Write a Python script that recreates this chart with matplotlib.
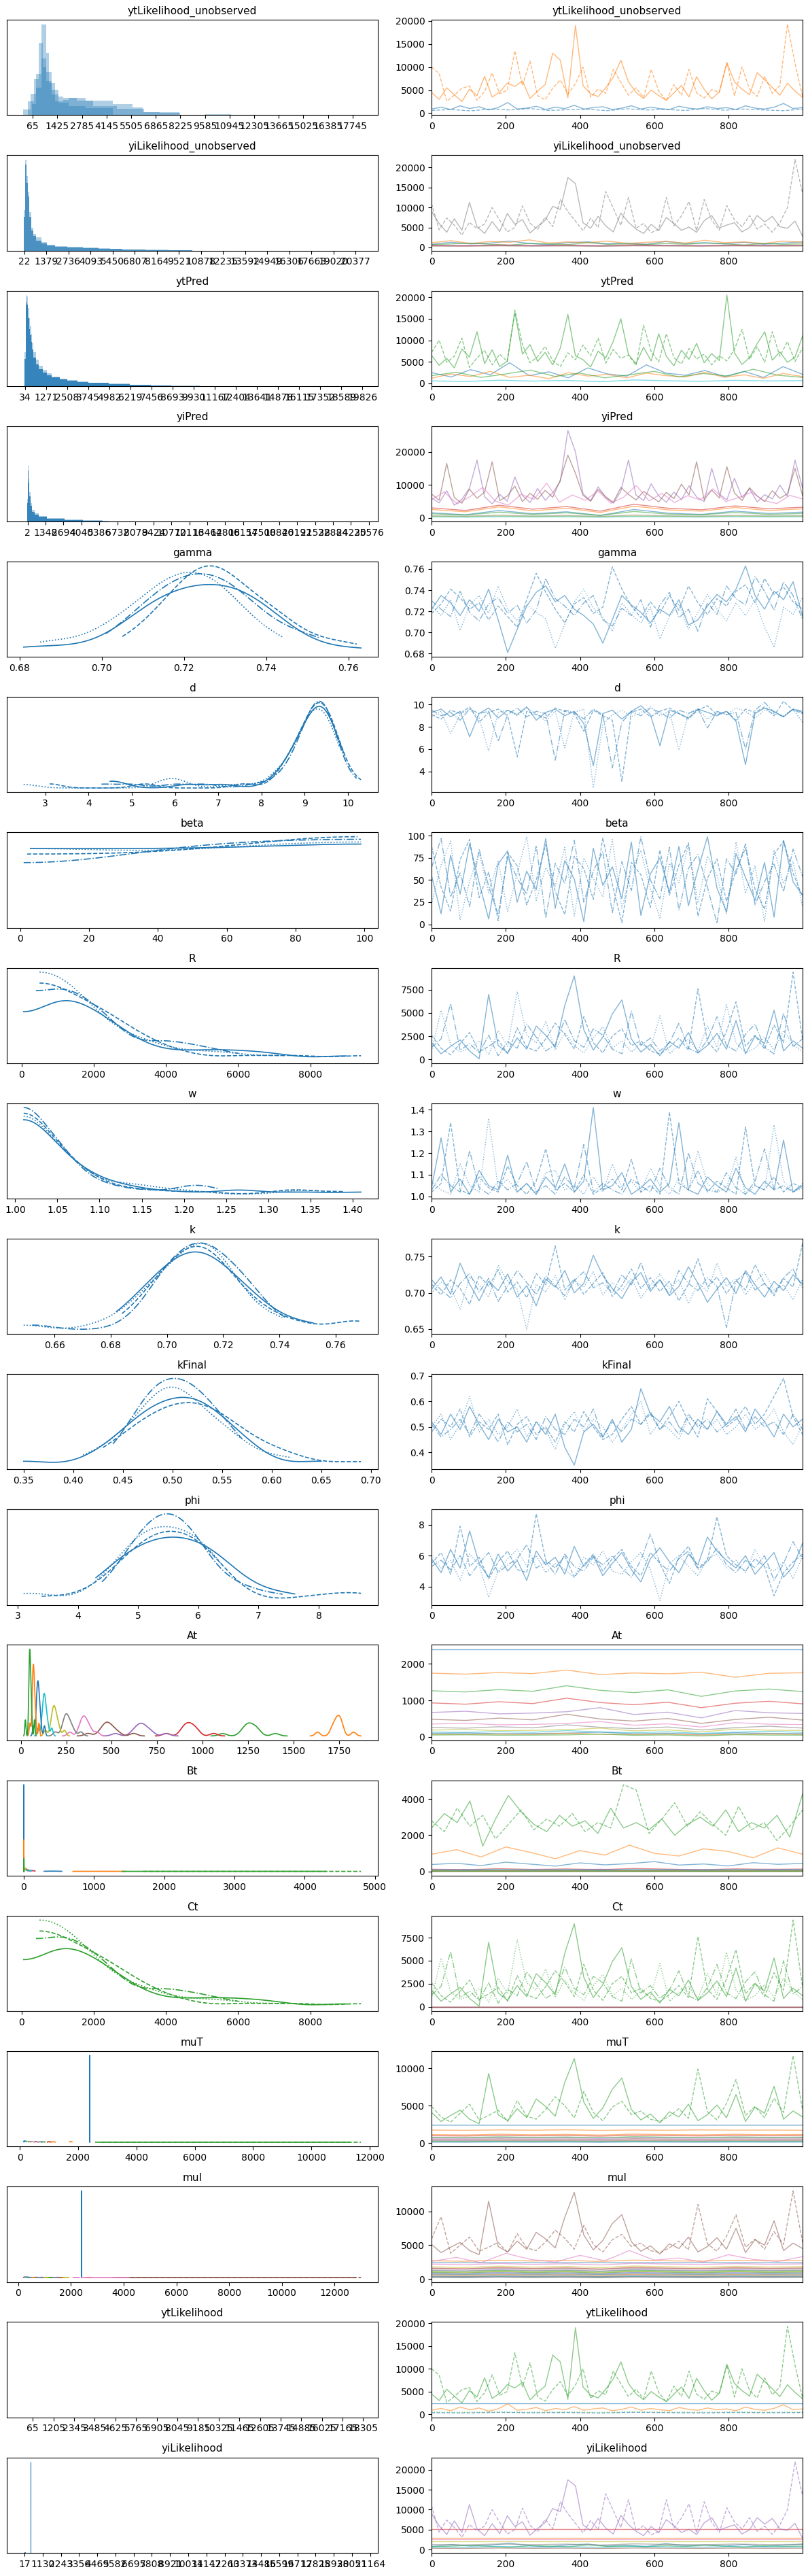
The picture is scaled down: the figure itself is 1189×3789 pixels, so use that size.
import numpy as np
import matplotlib.pyplot as plt

plt.rcParams["font.family"] = "DejaVu Sans"

# ---------------- scalar parameters: 4 chains each ----------------
gamma_chains = [
    [0.722, 0.735, 0.728, 0.716, 0.731, 0.720, 0.741, 0.712, 0.681, 0.703, 0.725, 0.738, 0.744, 0.729, 0.735, 0.722, 0.716, 0.708, 0.690, 0.712,
     0.735, 0.726, 0.719, 0.709, 0.722, 0.716, 0.731, 0.707, 0.712, 0.725, 0.736, 0.729, 0.741, 0.763, 0.735, 0.722, 0.739, 0.731, 0.748, 0.715],
    [0.718, 0.727, 0.741, 0.733, 0.722, 0.728, 0.712, 0.725, 0.715, 0.705, 0.731, 0.756, 0.738, 0.722, 0.709, 0.727, 0.733, 0.718, 0.724, 0.762,
     0.741, 0.725, 0.714, 0.729, 0.718, 0.735, 0.721, 0.744, 0.728, 0.717, 0.732, 0.725, 0.739, 0.745, 0.728, 0.751, 0.736, 0.743, 0.729, 0.722],
    [0.725, 0.716, 0.731, 0.702, 0.726, 0.735, 0.718, 0.744, 0.722, 0.711, 0.726, 0.719, 0.713, 0.685, 0.708, 0.729, 0.741, 0.723, 0.714, 0.701,
     0.728, 0.717, 0.709, 0.724, 0.694, 0.715, 0.727, 0.703, 0.719, 0.736, 0.722, 0.711, 0.728, 0.716, 0.731, 0.705, 0.686, 0.724, 0.717, 0.733],
    [0.730, 0.722, 0.715, 0.739, 0.719, 0.711, 0.727, 0.733, 0.718, 0.726, 0.709, 0.721, 0.751, 0.732, 0.725, 0.716, 0.728, 0.735, 0.712, 0.706,
     0.723, 0.716, 0.731, 0.705, 0.726, 0.738, 0.714, 0.722, 0.701, 0.728, 0.717, 0.744, 0.732, 0.726, 0.753, 0.739, 0.721, 0.748, 0.735, 0.712],
]
d_chains = [
    [9.3, 9.6, 8.9, 9.4, 7.1, 9.2, 9.7, 8.8, 9.5, 9.1, 9.8, 8.6, 9.3, 9.6, 9.0, 9.4, 8.3, 4.5, 9.2, 9.5,
     8.7, 9.4, 9.9, 9.1, 6.3, 9.5, 9.2, 8.8, 9.6, 9.3, 9.0, 9.4, 8.5, 4.6, 9.2, 9.7, 9.4, 8.9, 9.6, 9.3],
    [9.1, 8.7, 9.5, 9.2, 9.8, 8.4, 9.3, 9.6, 9.0, 5.3, 9.4, 9.1, 8.8, 9.7, 9.4, 9.2, 7.6, 9.5, 9.0, 8.6,
     3.1, 9.3, 9.6, 8.9, 9.4, 9.7, 9.2, 8.7, 9.5, 9.9, 9.1, 9.4, 8.6, 9.6, 9.3, 9.8, 9.0, 10.3, 9.5, 9.2],
    [8.9, 9.4, 7.4, 9.1, 9.6, 8.8, 5.8, 9.3, 9.5, 9.0, 9.7, 9.2, 8.5, 9.4, 6.1, 9.3, 9.6, 2.5, 8.2, 9.1,
     9.5, 8.9, 9.3, 9.8, 9.0, 9.4, 5.9, 9.2, 9.6, 8.7, 9.3, 9.1, 9.7, 9.4, 8.8, 9.5, 9.2, 9.0, 9.6, 8.4],
    [9.5, 9.0, 9.3, 8.6, 9.6, 9.2, 9.4, 6.7, 9.1, 9.7, 8.9, 9.4, 9.2, 5.0, 9.5, 9.3, 8.7, 9.6, 9.1, 4.3,
     8.4, 9.4, 9.0, 9.7, 9.3, 8.8, 9.5, 9.2, 9.6, 7.9, 9.4, 9.1, 9.3, 6.0, 9.5, 10.2, 9.3, 8.9, 9.6, 9.4],
]
beta_chains = [
    [55, 12, 78, 34, 91, 47, 6, 68, 83, 25, 60, 39, 97, 18, 72, 51, 3, 86, 44, 65,
     29, 93, 10, 57, 75, 36, 88, 21, 62, 99, 41, 14, 80, 53, 27, 70, 8, 95, 48, 33],
    [88, 42, 15, 73, 96, 30, 59, 4, 81, 66, 22, 50, 90, 37, 11, 77, 63, 28, 98, 45,
     2, 70, 56, 19, 84, 33, 67, 92, 9, 52, 74, 26, 61, 86, 40, 17, 79, 94, 58, 31],
    [23, 67, 94, 5, 49, 81, 36, 72, 14, 58, 99, 27, 64, 43, 87, 9, 75, 52, 31, 96,
     18, 61, 83, 40, 7, 69, 47, 90, 24, 77, 55, 12, 93, 35, 66, 3, 84, 46, 71, 20],
    [64, 97, 31, 58, 20, 85, 43, 11, 76, 52, 34, 89, 7, 69, 46, 95, 25, 60, 82, 13,
     71, 38, 99, 50, 29, 87, 16, 63, 79, 42, 1, 74, 57, 91, 22, 48, 68, 37, 85, 54],
]
R_chains = [
    [1800, 600, 1400, 2100, 900, 60, 7000, 1500, 700, 2300, 1100, 3600, 2600, 1300, 5800, 9000, 3200, 1000, 2400, 4900,
     6400, 2200, 800, 1600, 400, 1900, 1200, 2900, 700, 1500, 2800, 1100, 4200, 600, 2500, 1700, 5300, 900, 2000, 1200],
    [2600, 1200, 500, 1700, 2900, 800, 1400, 2100, 600, 3400, 1300, 900, 2200, 3900, 2700, 1100, 4600, 1800, 700, 2500,
     3300, 1500, 2000, 900, 600, 1300, 2300, 1000, 7600, 1900, 800, 3000, 6200, 1400, 2600, 1100, 3700, 1800, 9400, 2100],
    [900, 5300, 1600, 800, 1200, 2000, 500, 3100, 1400, 7300, 2600, 1800, 4100, 1000, 2900, 1500, 700, 2300, 3500, 1200,
     2000, 800, 1700, 1100, 4700, 600, 1500, 2200, 900, 3600, 1300, 5900, 1800, 700, 1200, 2400, 1000, 3100, 1600, 800],
    [1300, 2200, 6000, 1000, 1700, 700, 2600, 400, 1900, 1200, 3800, 2400, 900, 1600, 4300, 2000, 1300, 3300, 2600, 1100,
     600, 5200, 1500, 2300, 900, 1800, 3900, 1200, 700, 2100, 4600, 1500, 900, 2700, 3800, 1300, 600, 5000, 1400, 2200],
]
w_chains = [
    [1.04, 1.27, 1.02, 1.08, 1.01, 1.12, 1.05, 1.03, 1.19, 1.02, 1.06, 1.01, 1.09, 1.04, 1.15, 1.02, 1.07, 1.41, 1.03, 1.05,
     1.11, 1.01, 1.04, 1.08, 1.02, 1.06, 1.34, 1.03, 1.01, 1.09, 1.05, 1.02, 1.13, 1.04, 1.01, 1.07, 1.03, 1.26, 1.02, 1.05],
    [1.02, 1.06, 1.34, 1.03, 1.01, 1.09, 1.04, 1.02, 1.14, 1.05, 1.01, 1.07, 1.22, 1.03, 1.06, 1.02, 1.10, 1.01, 1.04, 1.08,
     1.03, 1.17, 1.02, 1.05, 1.01, 1.39, 1.06, 1.03, 1.12, 1.02, 1.07, 1.04, 1.01, 1.32, 1.05, 1.03, 1.09, 1.02, 1.06, 1.04],
    [1.07, 1.03, 1.01, 1.15, 1.05, 1.02, 1.36, 1.04, 1.08, 1.02, 1.06, 1.01, 1.11, 1.12, 1.03, 1.05, 1.01, 1.09, 1.02, 1.15,
     1.04, 1.07, 1.02, 1.13, 1.05, 1.01, 1.08, 1.03, 1.21, 1.06, 1.02, 1.04, 1.18, 1.01, 1.05, 1.03, 1.33, 1.07, 1.02, 1.04],
    [1.03, 1.10, 1.05, 1.02, 1.21, 1.04, 1.01, 1.07, 1.03, 1.06, 1.16, 1.02, 1.05, 1.01, 1.09, 1.04, 1.24, 1.02, 1.06, 1.03,
     1.01, 1.08, 1.05, 1.02, 1.13, 1.04, 1.01, 1.20, 1.06, 1.03, 1.02, 1.11, 1.04, 1.01, 1.07, 1.22, 1.03, 1.05, 1.02, 1.06],
]
k_chains = [
    [0.705, 0.722, 0.698, 0.741, 0.712, 0.689, 0.716, 0.703, 0.726, 0.694, 0.710, 0.682, 0.719, 0.708, 0.731, 0.700, 0.713, 0.752, 0.724, 0.706,
     0.692, 0.715, 0.728, 0.702, 0.718, 0.696, 0.709, 0.736, 0.713, 0.687, 0.705, 0.721, 0.699, 0.731, 0.711, 0.694, 0.716, 0.703, 0.725, 0.712],
    [0.712, 0.697, 0.718, 0.706, 0.684, 0.724, 0.709, 0.732, 0.701, 0.715, 0.693, 0.727, 0.711, 0.765, 0.704, 0.719, 0.698, 0.713, 0.728, 0.695,
     0.710, 0.733, 0.706, 0.721, 0.702, 0.716, 0.689, 0.712, 0.747, 0.708, 0.722, 0.699, 0.717, 0.704, 0.739, 0.713, 0.696, 0.720, 0.708, 0.769],
    [0.699, 0.715, 0.708, 0.677, 0.722, 0.711, 0.694, 0.738, 0.716, 0.705, 0.649, 0.712, 0.701, 0.724, 0.690, 0.717, 0.708, 0.729, 0.697, 0.714,
     0.703, 0.720, 0.693, 0.711, 0.726, 0.706, 0.718, 0.685, 0.714, 0.702, 0.741, 0.709, 0.720, 0.697, 0.715, 0.728, 0.704, 0.711, 0.690, 0.719],
    [0.718, 0.704, 0.693, 0.713, 0.727, 0.701, 0.720, 0.688, 0.709, 0.731, 0.714, 0.698, 0.723, 0.710, 0.696, 0.717, 0.729, 0.707, 0.714, 0.700,
     0.725, 0.711, 0.742, 0.705, 0.719, 0.697, 0.731, 0.713, 0.703, 0.721, 0.709, 0.652, 0.716, 0.728, 0.704, 0.713, 0.699, 0.721, 0.733, 0.707],
]
kFinal_chains = [
    [0.52, 0.47, 0.55, 0.49, 0.58, 0.51, 0.45, 0.53, 0.48, 0.50, 0.44, 0.52, 0.47, 0.55, 0.42, 0.35, 0.48, 0.51, 0.46, 0.53,
     0.44, 0.49, 0.65, 0.55, 0.52, 0.58, 0.50, 0.47, 0.53, 0.49, 0.56, 0.51, 0.54, 0.48, 0.57, 0.52, 0.46, 0.55, 0.50, 0.53],
    [0.48, 0.53, 0.50, 0.57, 0.46, 0.52, 0.49, 0.55, 0.43, 0.51, 0.54, 0.47, 0.50, 0.44, 0.52, 0.48, 0.56, 0.50, 0.45, 0.47,
     0.53, 0.58, 0.51, 0.55, 0.49, 0.54, 0.60, 0.52, 0.46, 0.61, 0.56, 0.50, 0.53, 0.58, 0.51, 0.55, 0.62, 0.69, 0.54, 0.47],
    [0.50, 0.55, 0.45, 0.51, 0.62, 0.48, 0.53, 0.47, 0.50, 0.57, 0.46, 0.52, 0.49, 0.41, 0.51, 0.56, 0.48, 0.53, 0.50, 0.44,
     0.49, 0.55, 0.60, 0.47, 0.52, 0.49, 0.45, 0.54, 0.51, 0.49, 0.53, 0.47, 0.50, 0.55, 0.49, 0.52, 0.57, 0.48, 0.43, 0.51],
    [0.51, 0.46, 0.49, 0.53, 0.47, 0.55, 0.50, 0.44, 0.52, 0.48, 0.51, 0.45, 0.54, 0.49, 0.47, 0.53, 0.50, 0.57, 0.46, 0.52,
     0.48, 0.53, 0.51, 0.56, 0.49, 0.52, 0.47, 0.55, 0.50, 0.53, 0.48, 0.51, 0.57, 0.49, 0.54, 0.50, 0.52, 0.47, 0.55, 0.49],
]
phi_chains = [
    [5.8, 4.9, 6.4, 5.2, 7.6, 5.5, 4.6, 6.1, 5.0, 5.7, 4.4, 6.3, 5.4, 5.9, 4.8, 6.6, 5.3, 6.0, 4.7, 5.5,
     6.2, 5.1, 4.3, 5.8, 6.5, 5.6, 4.9, 6.1, 5.4, 7.2, 6.3, 5.7, 5.2, 6.0, 4.8, 5.5, 6.2, 4.6, 5.3, 6.8],
    [5.5, 6.2, 4.8, 7.9, 5.3, 5.9, 4.5, 5.6, 6.3, 5.1, 4.9, 8.7, 5.7, 5.2, 6.0, 4.6, 5.4, 6.1, 5.0, 5.8,
     6.4, 5.3, 4.7, 6.2, 5.5, 4.2, 5.9, 6.6, 5.2, 5.7, 8.5, 6.0, 5.4, 5.0, 5.8, 5.3, 3.4, 4.9, 5.6, 6.1],
    [6.0, 5.2, 5.7, 4.4, 6.1, 5.4, 3.3, 5.0, 5.8, 6.4, 5.3, 6.0, 4.9, 5.5, 5.1, 4.6, 5.9, 5.4, 6.3, 5.0,
     4.8, 5.6, 6.2, 5.1, 3.1, 5.5, 6.0, 5.3, 4.7, 5.8, 6.1, 5.2, 5.7, 4.9, 6.4, 5.3, 5.0, 5.6, 4.5, 6.0],
    [5.3, 5.7, 5.1, 6.0, 4.7, 5.5, 6.2, 4.9, 5.4, 5.8, 6.7, 5.2, 5.6, 4.8, 6.1, 5.3, 5.0, 5.9, 5.4, 6.0,
     5.2, 4.6, 5.7, 7.4, 5.5, 5.0, 5.8, 6.3, 5.1, 5.6, 6.5, 5.4, 4.9, 5.7, 5.2, 6.0, 4.4, 5.5, 6.9, 5.8],
]

# ---------------- At: one chain per element ----------------
At_dims = [
    [2400, 2400],
    [1745, 1718, 1762, 1733, 1830, 1706, 1751, 1727, 1770, 1632, 1741, 1756],
    [1262, 1230, 1295, 1248, 1400, 1275, 1212, 1288, 1110, 1256, 1310, 1240],
    [930, 895, 962, 912, 1060, 940, 880, 948, 800, 921, 975, 905],
    [668, 702, 630, 651, 688, 800, 612, 676, 520, 722, 660, 642],
    [482, 450, 515, 466, 620, 490, 432, 503, 370, 476, 538, 460],
    [352, 374, 330, 341, 366, 420, 318, 358, 270, 389, 347, 336],
    [256, 238, 277, 247, 330, 262, 226, 270, 190, 251, 292, 242],
    [186, 201, 172, 179, 196, 240, 164, 190, 135, 212, 183, 176],
    [131, 121, 142, 126, 170, 134, 115, 138, 95, 129, 150, 124],
    [96, 104, 88, 92, 101, 130, 84, 98, 70, 110, 94, 90],
    [71, 65, 77, 68, 100, 72, 62, 75, 50, 69, 82, 66],
    [51, 56, 46, 48, 54, 75, 43, 52, 25, 60, 49, 47],
]

# ---------------- Bt ----------------
Bt_blue = [380, 450, 320, 510, 400, 290, 470, 360, 430, 540, 350, 410, 300, 480, 390, 440]
Bt_orange = [950, 1200, 800, 1350, 1050, 700, 1150, 900, 1450, 1000, 850, 1250, 1100, 750, 1300, 950]
Bt_green_a = [2400, 3200, 2700, 3900, 1400, 2900, 4200, 3300, 2600, 2200, 3100, 2500, 2800, 2100, 3500,
              2400, 2700, 2300, 2900, 2000, 2600, 3000, 2500, 3400, 2200, 2700, 2400, 3100, 1900, 4300]
Bt_green_b = [2800, 2200, 3500, 2500, 3100, 1800, 2600, 3400, 2300, 2900, 2500, 3200, 2200, 2700, 2400,
              4800, 4500, 2100, 2900, 3800, 2500, 3300, 2600, 2000, 3600, 2300, 2700, 1700, 2500, 3400]
Bt_small = [
    [120, 95, 150, 110, 135, 100, 160, 125, 90, 140, 115, 130],
    [90, 110, 75, 100, 85, 120, 70, 95, 105, 80, 115, 92],
    [60, 72, 48, 66, 55, 80, 45, 63, 58, 70, 50, 65],
    [45, 38, 55, 42, 50, 35, 58, 44, 40, 52, 47, 36],
    [35, 42, 28, 38, 31, 45, 26, 36, 40, 30, 44, 33],
    [25, 20, 31, 23, 28, 18, 33, 24, 21, 29, 26, 19],
    [80, 60, 105, 70, 95, 55, 110, 85, 65, 100, 75, 90],
]
Bt_near_zero = [
    [0.2, 0.6, 0.1, 0.4, 0.3, 0.7, 0.0, 0.5, 0.3, 0.4],
    [1.0, 1.6, 0.4, 1.2, 2.0, 0.8, 1.4, 0.2, 1.1, 1.8],
    [2.0, 3.5, 0.8, 2.6, 4.2, 1.4, 3.0, 0.5, 2.2, 3.8],
]

# ---------------- Ct: one wide element (same draws as R), the rest fixed at 0 ----------------
Ct_zero = [0, 0]
Ct_wide_chains = R_chains

# ---------------- muT ----------------
muT_fixed = [2400.0, 2400.3, 2399.8, 2400.1, 2399.9, 2400.2, 2400.0, 2399.7]
muT_d1 = [1750, 1722, 1771, 1736, 1788, 1712, 1758, 1731, 1774, 1741, 1755, 1726]
muT_green_a = [4100, 2900, 3700, 4400, 3200, 2600, 9300, 3800, 3000, 4600, 3400, 5900, 4900, 3600, 8100, 11300, 5500, 3300, 4700, 7200,
               8700, 4500, 3100, 3900, 2700, 4200, 3500, 5200, 3000, 3800, 5100, 3400, 6500, 2900, 4800, 4000, 7600, 3200, 4300, 3500]
muT_green_b = [4900, 3500, 2800, 4000, 5200, 3100, 3700, 4400, 2900, 5700, 3600, 3200, 4500, 6200, 5000, 3400, 6900, 4100, 3000, 4800,
               5600, 3800, 4300, 3200, 2900, 3600, 4600, 3300, 9900, 4200, 3100, 5300, 8500, 3700, 4900, 3400, 6000, 4100, 11700, 4400]
muT_rest = [
    [1000, 962, 1048, 981, 1030, 944, 1068, 1012, 972, 1041, 990, 1021],
    [700, 663, 748, 682, 731, 641, 762, 709, 671, 739, 690, 719],
    [550, 522, 588, 531, 571, 503, 598, 559, 516, 579, 541, 566],
    [420, 396, 451, 404, 438, 381, 459, 426, 399, 446, 411, 433],
    [330, 309, 356, 318, 344, 298, 362, 335, 312, 351, 322, 340],
    [260, 243, 282, 250, 271, 236, 288, 264, 247, 277, 254, 268],
    [200, 186, 218, 192, 209, 180, 222, 203, 189, 214, 196, 206],
    [150, 139, 165, 144, 157, 131, 168, 152, 141, 161, 147, 155],
    [1150, 1108, 1203, 1127, 1181, 1089, 1214, 1160, 1117, 1192, 1139, 1170],
    [800, 764, 851, 781, 829, 742, 866, 809, 772, 840, 790, 818],
]

# ---------------- muI ----------------
muI_fixed = [2400.1, 2399.8, 2400.3, 2399.9, 2400.2, 2400.0, 2399.7, 2400.2]
muI_low_a = [
    [2700, 2622, 2783, 2661, 2748, 2604, 2796, 2688, 2643, 2762, 2679, 2721],
    [1000, 903, 1118, 948, 1079, 872, 1146, 1021, 931, 1097, 978, 1052],
    [1600, 1523, 1698, 1557, 1652, 1482, 1719, 1611, 1541, 1677, 1579, 1633],
    [1300, 1226, 1389, 1262, 1347, 1195, 1412, 1314, 1244, 1371, 1281, 1329],
]
muI_brown_a = [5100, 3900, 4700, 5400, 4200, 3600, 11500, 4800, 4000, 5600, 4400, 6900, 5900, 4600, 9100, 12800, 6500, 4300, 5700, 8200,
               9500, 5500, 4100, 4900, 3700, 5200, 4500, 6200, 4000, 4800, 6100, 4400, 7500, 3900, 5800, 5000, 8600, 4200, 5300, 4500]
muI_brown_b = [5900, 9200, 3800, 5000, 6200, 4100, 4700, 5400, 3900, 6700, 4600, 4200, 5500, 7200, 6000, 4400, 7900, 5100, 4000, 5800,
               6600, 4800, 5300, 4200, 3900, 4600, 5600, 4300, 11000, 5200, 4100, 6300, 9500, 4700, 5900, 4400, 7000, 5100, 13000, 5400]
muI_pink = [2600, 3200, 2400, 3800, 2900, 2500, 3500, 2700, 4200, 2800, 3100, 2500, 3600, 2900, 2600, 3300]
muI_low_b = [
    [1500, 1441, 1572, 1468, 1539, 1412, 1588, 1507, 1452, 1561, 1479, 1528],
    [1800, 1702, 1903, 1748, 1851, 1683, 1921, 1812, 1724, 1879, 1768, 1833],
    [800, 702, 903, 748, 861, 681, 922, 811, 723, 879, 768, 832],
    [450, 383, 521, 418, 492, 362, 538, 461, 401, 509, 432, 474],
    [600, 541, 668, 572, 639, 522, 689, 611, 553, 658, 583, 627],
    [1200, 1130, 1285, 1162, 1248, 1101, 1306, 1213, 1147, 1267, 1178, 1231],
    [250, 221, 284, 234, 268, 209, 293, 256, 228, 276, 241, 262],
    [900, 846, 968, 871, 937, 823, 983, 911, 858, 952, 884, 924],
    [350, 318, 389, 333, 371, 305, 398, 357, 326, 380, 341, 364],
    [2200, 2116, 2297, 2154, 2253, 2089, 2318, 2211, 2137, 2274, 2172, 2236],
    [700, 652, 761, 674, 734, 631, 775, 709, 663, 748, 688, 721],
    [1050, 993, 1118, 1019, 1087, 972, 1135, 1061, 1006, 1103, 1032, 1074],
    [300, 271, 336, 285, 318, 259, 344, 306, 278, 327, 292, 312],
]

# ---------------- discrete variables: trace values ----------------
yt_spiky_a = [4500, 3000, 5500, 4000, 2500, 5200, 3800, 8000, 3500, 4600, 6500, 5800, 7000, 3200, 4800, 6200, 13000, 11500, 3300, 19000,
              6000, 4200, 3600, 5500, 7800, 11500, 6800, 4500, 3200, 5000, 3800, 2800, 4400, 6000, 3500, 7900, 5200, 3100, 4600, 11000,
              6800, 5200, 4000, 8800, 7200, 5600, 3900, 6500, 4800, 3400]
yt_spiky_b = [10000, 8600, 2600, 3900, 5400, 5900, 2800, 4700, 8700, 4200, 5000, 13500, 6000, 11300, 3800, 2900, 5400, 7200, 4100, 6400,
              10000, 3500, 5200, 4300, 9500, 6700, 3900, 5500, 3400, 9500, 4800, 2700, 6200, 3900, 9500, 4400, 3300, 5100, 4500, 10800,
              3800, 10000, 5200, 3600, 8000, 4300, 6000, 19300, 10800, 3600]
yt_band = [900, 1300, 800, 1600, 1000, 1400, 700, 1200, 2300, 900, 1100, 1500, 800, 1300, 1000, 1700, 900, 1200, 1400, 800,
           1100, 1600, 900, 1300, 1000, 800, 1500, 1100, 900, 1400, 1000, 1200, 800, 1600, 1100, 900, 1300, 2100, 1000, 1200]
yt_band_low = [600, 800, 500, 900, 700, 1000, 600, 750, 850, 550, 950, 700, 800, 600, 1000, 650, 900, 700, 550, 850]
yt_obs_fixed = [2400, 2400]
yt_obs_low = [350, 300, 420, 330, 390, 280, 440, 360, 310, 400, 340, 380]
yt_obs_teal = [480, 440, 530, 460, 510, 420, 540, 490, 450, 520, 470, 500]

yi_spiky_a = [9000, 6000, 3800, 7200, 4300, 11300, 5200, 3500, 6500, 4000, 8500, 5800, 7000, 3600, 5300, 6800, 10300, 9500, 17500, 16000,
              6200, 4800, 7800, 5400, 3900, 8600, 6300, 4600, 3500, 5800, 4200, 7500, 6000, 4300, 5100, 3800, 6700, 8000, 4900, 5600,
              6200, 3900, 5000, 8000, 6400, 7800, 5200, 4800, 6600, 2800]
yi_spiky_b = [11000, 4400, 7400, 5600, 3100, 6300, 4700, 5900, 10000, 6800, 3900, 5000, 10400, 6100, 4500, 7600, 5200, 12000, 9000, 6600,
              4200, 7300, 5000, 14000, 9800, 5500, 12500, 4800, 6000, 3700, 4600, 12500, 5400, 7900, 11500, 4200, 12000, 6800, 4300, 10500,
              6900, 5200, 8000, 4600, 5900, 3800, 6200, 10000, 22000, 13500]
yi_bands = [
    [800, 1300, 900, 1100, 1600, 1000, 700, 1200, 1400, 900, 1100, 800, 1500, 1000, 1200, 900, 1300, 800, 1100, 1400],
    [1200, 1700, 1000, 1500, 1300, 1900, 1100, 1400, 1200, 1600, 1000, 1300, 1500, 1100, 1800, 1200, 1400, 1000, 1600, 1300],
    [700, 900, 1100, 800, 600, 1000, 900, 700, 1200, 800, 900, 700, 1000, 800, 1100, 900, 600, 1000, 800, 900],
    [550, 480, 620, 500, 590, 450, 640, 530, 470, 600, 510, 570],
    [450, 400, 510, 430, 480, 380, 520, 460, 410, 500, 440, 470],
    [350, 310, 400, 330, 380, 290, 410, 360, 320, 390, 340, 370],
]
yi_obs_levels = [3000, 5200, 2600, 2000]
yi_obs_gray = [1300, 1180, 1420, 1250, 1380, 1150, 1450, 1310, 1220, 1400, 1270, 1340]
yi_obs_cyan = [700, 620, 790, 660, 750, 590, 810, 710, 640, 770, 680, 730]

ytPred_green_a = [6500, 4200, 5800, 3600, 8000, 6100, 12000, 4600, 7800, 3900, 5200, 16500, 6800, 9000, 5100, 7200, 4300, 8200, 16000, 6400,
                  5500, 3800, 7500, 5900, 9800, 15000, 6700, 4600, 8400, 5200, 11500, 6300, 4100, 7700, 5600, 9300, 4800, 6900, 5300, 20500,
                  7100, 4400, 6000, 9200, 12000, 5400, 7300, 4900, 6100, 11000]
ytPred_green_b = [7200, 10000, 4900, 6300, 10500, 3700, 5900, 7700, 4300, 6800, 5100, 17000, 9000, 4800, 6200, 8600, 5300, 3900, 7100, 5500,
                  8900, 6400, 10500, 4700, 7900, 5800, 6600, 4200, 13500, 7400, 5000, 11500, 6000, 4500, 8100, 5700, 6800, 4300, 6400, 5200,
                  7900, 12500, 5600, 8500, 4900, 12000, 6300, 9700, 5100, 8200]
ytPred_blue = [2500, 1500, 3200, 2000, 4800, 1800, 2700, 1300, 3600, 2200, 1700, 4300, 2400, 1900, 3000, 1600, 2800, 1400, 3900, 2100]
ytPred_orange = [1200, 2200, 1600, 2800, 1400, 1900, 1100, 2500, 1700, 2100, 1300, 2400, 1800, 1500, 2600, 1400, 2000, 1200, 2300, 1600]
ytPred_green_low = [1800, 2600, 1400, 2200, 3100, 1600, 2400, 1300, 2000, 2800, 1500, 2300, 1700, 3300, 1900, 1400]
ytPred_cyan = [600, 450, 750, 550, 700, 400, 800, 620, 500, 720, 580, 650]

yiPred_purple = [6000, 4500, 8200, 3800, 5600, 9000, 17500, 6400, 4200, 7100, 5000, 12400, 6800, 4600, 8900, 5300, 7600, 11000, 26500, 20000,
                 7300, 5100, 9400, 6200, 4400, 8100, 17500, 6900, 5200, 10300, 6600, 4700, 7800, 5500, 9700, 6300, 4900, 15000, 7200, 5400,
                 12000, 6100, 8800, 4800, 7000, 5700, 9900, 6500, 17500, 9000]
yiPred_brown = [7200, 5300, 16500, 6100, 4400, 8700, 5900, 7800, 17000, 5200, 6600, 9600, 4900, 7400, 5600, 8300, 6200, 11500, 19000, 13500,
                6800, 5000, 8600, 6300, 4700, 9200, 7100, 5400, 8000, 6400, 4800, 7700, 5800, 10200, 6900, 17000, 5500, 8400, 6000, 15500,
                7500, 5200, 9100, 6600, 4900, 8200, 5900, 7300, 15000, 6700]
yiPred_pink = [5500, 7800, 4200, 6400, 9200, 5000, 3800, 7100, 5600, 10500, 4700, 6900, 5300, 8100, 4400,
               6200, 9800, 5100, 7400, 4600, 6700, 5400, 8800, 4900, 6100, 7700, 5200, 4300, 6800, 5700]
yiPred_low = [
    [1500, 900, 2200, 1200, 1800, 700, 2500, 1400, 1000, 2000, 1300, 1700],
    [2500, 1800, 3300, 2100, 2900, 1600, 3500, 2400, 2000, 3100, 2200, 2700],
    [1200, 800, 1700, 1000, 1500, 700, 1900, 1100, 900, 1600, 1000, 1300],
    [3000, 2200, 3800, 2600, 3400, 2000, 4100, 2900, 2400, 3600, 2700, 3200],
]
yiPred_low_b = [
    [600, 450, 780, 520, 700, 400, 820, 590, 480, 740, 550, 660],
    [400, 320, 500, 360, 460, 300, 520, 410, 340, 480, 380, 440],
    [250, 200, 320, 230, 290, 180, 330, 260, 210, 300, 240, 280],
]

# ---------------- discrete variables: histogram bins ----------------
ytU_edges_1 = [-470, -60, 250, 540, 800, 1115, 1475, 1760, 2050, 3000, 3770, 4500, 5570, 6150, 8160]
ytU_heights_1 = [25, 93, 180, 400, 150, 113, 83, 68, 76, 63, 63, 48, 33, 12]
ytU_edges_2 = [-200, 140, 400, 610, 800, 970, 1290, 1750, 2500, 3400, 4700, 6200, 7100, 8200, 9600, 11030]
ytU_heights_2 = [60, 160, 318, 210, 273, 143, 60, 76, 63, 40, 28, 12, 10, 0, 3]
ytU_edges_3 = [0, 250, 540, 800, 1115, 1475, 2050, 3000, 4500]
ytU_heights_3 = [50, 120, 250, 190, 90, 55, 40, 30]
ytU_ticks = [65, 1425, 2785, 4145, 5505, 6865, 8225, 9585, 10945, 12305, 13665, 15025, 16385, 17745]

yiU_edges = [-26, 54, 134, 214, 294, 422, 582, 742, 1062, 1382, 1900, 2662, 3600, 4582, 5300, 6022, 7462, 8900, 10342]
yiU_heights_light = [180, 402, 330, 260, 170, 100, 75, 60, 38, 26, 20, 17, 14, 11, 8, 6, 4, 2]
yiU_heights_dark = [150, 380, 300, 240, 150, 90, 65, 45, 32, 22, 16, 14, 12, 9, 7, 5, 3, 1.5]
yiU_ticks = [22, 1379, 2736, 4093, 5450, 6807, 8164, 9521, 10878, 12235, 13592, 14949, 16306, 17663, 19020, 20377]

ytP_edges = [4, 80, 141, 202, 263, 324, 385, 461, 537, 690, 842, 1071, 1300, 1605, 2062, 2520, 3130, 3740, 4960, 6180, 7400, 8620, 10300]
ytP_heights_light = [150, 400, 395, 345, 300, 265, 230, 190, 150, 115, 90, 70, 55, 42, 33, 25, 20, 15, 10, 6, 3.5, 1.5]
ytP_heights_dark = [120, 370, 360, 300, 250, 225, 195, 160, 125, 95, 75, 60, 48, 37, 29, 22, 18, 13, 8, 5, 3, 1]
ytP_ticks = [34, 1271, 2508, 3745, 4982, 6219, 7456, 8693, 9930, 11167, 12404, 13641, 14878, 16115, 17352, 18589, 19826]

yiP_edges = [-37, 2, 60, 119, 216, 353, 547, 840, 1424, 2788, 4151, 5612, 6099]
yiP_heights_light = [100, 248, 190, 130, 80, 50, 35, 25, 15, 9, 5, 2]
yiP_heights_dark = [80, 225, 170, 112, 68, 42, 29, 20, 12, 7, 4, 1.5]
yiP_ticks = [2, 1348, 2694, 4040, 5386, 6732, 8078, 9424, 10770, 12116, 13462, 14808, 16154, 17500, 18846, 20192,
             21538, 22884, 24230, 25576]

ytL_ticks = [65, 1205, 2345, 3485, 4625, 5765, 6905, 8045, 9185, 10325, 11465, 12605, 13745, 14885, 16025, 17165, 18305]

yiL_centers = [40, 400]
yiL_heights = [0.004, 1.0]
yiL_ticks = [17, 1130, 2243, 3356, 4469, 5582, 6695, 7808, 8921, 10034, 11147, 12260, 13373, 14486, 15599, 16712,
             17825, 18938, 20051, 21164]

CHAIN_LS = ["-", "--", ":", "-."]


def kde(vals, bw=1.0, reflect=(False, False), pad=0.0):
    v = np.asarray(vals, dtype=float)
    lo, hi = v.min(), v.max()
    sd = v.std(ddof=1)
    if sd == 0:
        return None, None
    q75, q25 = np.percentile(v, [75, 25])
    spread = min(sd, (q75 - q25) / 1.34) if q75 > q25 else sd
    h = bw * 0.9 * spread * len(v) ** -0.2
    grid = np.linspace(lo - pad * h, hi + pad * h, 400)

    def k(c):
        return np.exp(-0.5 * ((grid[:, None] - c[None, :]) / h) ** 2).sum(axis=1)

    dens = k(v)
    if reflect[0]:
        dens = dens + k(2 * lo - v)
    if reflect[1]:
        dens = dens + k(2 * hi - v)
    dens = dens / (len(v) * h * np.sqrt(2 * np.pi))
    return grid, dens


def trace(ax, vals, color, ls):
    x = np.linspace(0, 999, len(vals))
    ax.plot(x, vals, color=color, ls=ls, lw=1.0, alpha=0.55)


def kde_and_trace(ax_l, ax_r, dims, bw=1.0, reflect=(False, False), pad_dims=()):
    top = 0.0
    for i, chains in enumerate(dims):
        color = f"C{i % 10}"
        pad = 3.0 if i in pad_dims else 0.0
        for j, ch in enumerate(chains):
            g, dens = kde(ch, bw, reflect, pad)
            if g is not None:
                ax_l.plot(g, dens, color=color, ls=CHAIN_LS[j % 4], lw=1.2)
                top = max(top, dens.max())
            trace(ax_r, ch, color, CHAIN_LS[j % 4])
    ax_l.set_ylim(-0.05 * top, 1.05 * top)


def traces_only(ax_r, dims):
    for i, chains in enumerate(dims):
        color = f"C{i % 10}"
        for j, ch in enumerate(chains):
            trace(ax_r, ch, color, CHAIN_LS[j % 4])


def hist(ax, layers, alphas, ticks, xlim, ytop=None):
    for (edges, heights), a in zip(layers, alphas):
        ax.stairs(heights, edges, fill=True, color="C0", alpha=a, lw=0)
    ax.set_xticks(ticks)
    ax.set_xlim(*xlim)
    if ytop is not None:
        ax.set_ylim(0, ytop)
    else:
        ax.set_ylim(bottom=0)


names = ["ytLikelihood_unobserved", "yiLikelihood_unobserved", "ytPred", "yiPred", "gamma", "d", "beta", "R",
         "w", "k", "kFinal", "phi", "At", "Bt", "Ct", "muT", "muI", "ytLikelihood", "yiLikelihood"]

fig, axes = plt.subplots(19, 2, figsize=(11.89, 37.89), dpi=100)
fig.subplots_adjust(left=0.0084, right=0.9933, top=0.9923, bottom=0.009, wspace=0.145, hspace=0.42)

# row 0
hist(axes[0, 0], [(ytU_edges_1, ytU_heights_1), (ytU_edges_2, ytU_heights_2), (ytU_edges_3, ytU_heights_3)],
     [0.35, 0.35, 0.35], ytU_ticks, (-1372, 19139))
traces_only(axes[0, 1], [[yt_band, yt_band_low], [yt_spiky_a, yt_spiky_b]])

# row 1
hist(axes[1, 0], [(yiU_edges, yiU_heights_light), (yiU_edges, yiU_heights_dark)], [0.35, 0.7],
     yiU_ticks, (-1066, 21753))
traces_only(axes[1, 1], [[], [], [], [], [], [], [], [yi_spiky_a, yi_spiky_b]])
traces_only(axes[1, 1], [[b] for b in yi_bands])

# row 2
hist(axes[2, 0], [(ytP_edges, ytP_heights_light), (ytP_edges, ytP_heights_dark)], [0.35, 0.85],
     ytP_ticks, (-1033, 20726))
traces_only(axes[2, 1], [[], [], [ytPred_green_a, ytPred_green_b]])
traces_only(axes[2, 1], [[ytPred_blue], [ytPred_orange], [ytPred_green_low], [], [], [], [], [], [], [ytPred_cyan]])

# row 3
hist(axes[3, 0], [(yiP_edges, yiP_heights_light), (yiP_edges, yiP_heights_dark)], [0.35, 0.85],
     yiP_ticks, (-1556, 26238), ytop=420)
traces_only(axes[3, 1], [[], [], [], [], [yiPred_purple], [yiPred_brown], [yiPred_pink]])
traces_only(axes[3, 1], [[yiPred_low[0]], [yiPred_low[1]], [yiPred_low[2]], [yiPred_low[3]], [], [], [],
                         [yiPred_low_b[0]], [yiPred_low_b[1]], [yiPred_low_b[2]]])

# scalar rows: (row, chains, bandwidth factor, boundary reflection)
scalar_rows = [
    (4, gamma_chains, 1.3, (False, False)),
    (5, d_chains, 1.6, (False, False)),
    (6, beta_chains, 2.0, (True, True)),
    (7, R_chains, 1.2, (True, False)),
    (8, w_chains, 1.2, (True, False)),
    (9, k_chains, 1.3, (False, False)),
    (10, kFinal_chains, 1.3, (False, False)),
    (11, phi_chains, 1.3, (False, False)),
]
for r, chains, bw, refl in scalar_rows:
    kde_and_trace(axes[r, 0], axes[r, 1], [chains], bw=bw, reflect=refl)

# At
kde_and_trace(axes[12, 0], axes[12, 1], [[d] for d in At_dims], pad_dims=range(13))

# Bt
kde_and_trace(axes[13, 0], axes[13, 1],
              [[Bt_blue], [Bt_orange], [Bt_green_a, Bt_green_b]] + [[s] for s in Bt_small]
              + [[z] for z in Bt_near_zero], pad_dims=(10, 11, 12))

# Ct
kde_and_trace(axes[14, 0], axes[14, 1], [[Ct_zero], [Ct_zero], Ct_wide_chains, [Ct_zero], [Ct_zero], [Ct_zero]],
              bw=1.2, reflect=(True, False))

# muT
kde_and_trace(axes[15, 0], axes[15, 1],
              [[muT_fixed], [muT_d1], [muT_green_a, muT_green_b]] + [[m] for m in muT_rest], pad_dims=(0,))

# muI
kde_and_trace(axes[16, 0], axes[16, 1],
              [[muI_fixed]] + [[m] for m in muI_low_a] + [[muI_brown_a, muI_brown_b], [muI_pink]]
              + [[m] for m in muI_low_b], pad_dims=(0,))

# ytLikelihood
axes[17, 0].set_xticks(ytL_ticks)
axes[17, 0].set_xlim(-1370, 19109)
traces_only(axes[17, 1], [[yt_obs_fixed, yt_obs_low], [yt_band], [yt_spiky_a, yt_spiky_b, yt_obs_teal]])

# yiLikelihood
axes[18, 0].bar(yiL_centers, yiL_heights, width=12, color="C0", edgecolor="C0", lw=0.8)
axes[18, 0].set_xticks(yiL_ticks)
axes[18, 0].set_xlim(-1064, 21625)
traces_only(axes[18, 1], [[yi_bands[0]], [[yi_obs_levels[0]] * 2], [yi_bands[2]], [[yi_obs_levels[1]] * 2],
                          [yi_spiky_a, yi_spiky_b], [yi_bands[5]], [[yi_obs_levels[2]] * 2], [yi_obs_gray],
                          [[yi_obs_levels[3]] * 2], [yi_obs_cyan]])

for r, name in enumerate(names):
    axes[r, 0].set_title(name, fontsize=11)
    axes[r, 1].set_title(name, fontsize=11)
    axes[r, 0].set_yticks([])
    axes[r, 1].set_xlim(0, 999)
    axes[r, 1].set_xticks([0, 200, 400, 600, 800])

fig.savefig("out.png", dpi=100)
